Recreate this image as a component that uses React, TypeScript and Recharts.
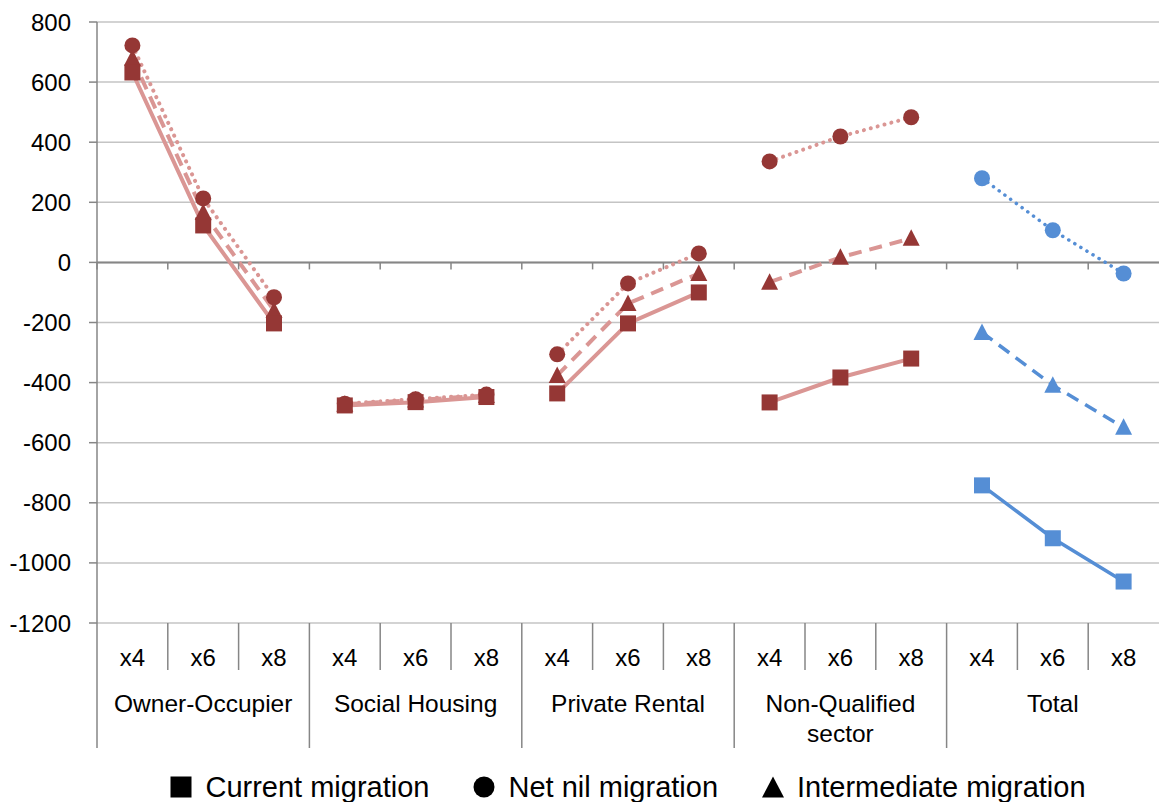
import React from 'react';
import { LineChart, Line, XAxis, YAxis, CartesianGrid, ReferenceLine } from 'recharts';

const groups = ['Owner-Occupier', 'Social Housing', 'Private Rental', 'Non-Qualified sector', 'Total'];
const levels = ['x4', 'x6', 'x8'];
const yTicks = [-1200, -1000, -800, -600, -400, -200, 0, 200, 400, 600, 800];

// one value per group x level, in group order
const currentMigration = [632, 123, -203, -476, -465, -448, -436, -203, -100, -466, -383, -320, -742, -918, -1062];
const netNilMigration = [722, 213, -116, -470, -455, -440, -306, -70, 30, 336, 419, 483, 280, 107, -37];
const intermediateMigration = [679, 166, -160, -472, -458, -443, -376, -137, -37, -66, 17, 80, -233, -409, -549];

const W = 1159;
const H = 802;
const PLOT_LEFT = 97;
const PLOT_TOP = 22;
const PLOT_BOTTOM = 623;
const BAND = (W - PLOT_LEFT) / (groups.length * levels.length);
const ZERO_Y = PLOT_TOP + (800 / 2000) * (PLOT_BOTTOM - PLOT_TOP);

const FONT = '"Liberation Sans", Arial, sans-serif';
const AXIS = '#868686';
const PINK = '#DA9694';
const DARK_RED = '#953735';
const BLUE = '#558ED5';

const series = [
  { key: 'nil', values: netNilMigration, shape: 'circle', dash: '0.1 7', cap: 'round' },
  { key: 'mid', values: intermediateMigration, shape: 'triangle', dash: '13 8', cap: 'butt' },
  { key: 'cur', values: currentMigration, shape: 'square', dash: undefined, cap: 'butt' },
];

const rows = groups.flatMap((g, gi) =>
  levels.map((lv, li) => {
    const i = gi * levels.length + li;
    const row: any = { id: `${gi}-${lv}`, level: lv, gi, li };
    series.forEach((s) => {
      row[`${s.key}_${gi}`] = s.values[i];
    });
    return row;
  })
);

const makeDot = (shape: string, color: string, tag: string) => (props: any) => {
  const { cx, cy, value, index } = props;
  const k = `${tag}-${index}`;
  if (cx == null || cy == null || value == null) return <g key={k} />;
  if (shape === 'square') {
    return <rect key={k} x={cx - 8} y={cy - 8} width={16} height={16} fill={color} />;
  }
  if (shape === 'circle') {
    return <circle key={k} cx={cx} cy={cy} r={8} fill={color} />;
  }
  return (
    <polygon key={k} points={`${cx},${cy - 9} ${cx + 8.5},${cy + 7.5} ${cx - 8.5},${cy + 7.5}`} fill={color} />
  );
};

const CategoryTick = (props: any) => {
  const { x, payload } = props;
  const row = rows.find((r) => r.id === payload.value);
  if (!row) return <g />;
  const left = x - BAND / 2;
  const groupStart = row.li === 0;
  const label = groups[row.gi] === 'Non-Qualified sector' ? ['Non-Qualified', 'sector'] : [groups[row.gi]];
  return (
    <g>
      <line x1={left} x2={left} y1={PLOT_BOTTOM} y2={groupStart ? 748 : 670} stroke={AXIS} strokeWidth={1.5} />
      <line x1={left} x2={left} y1={ZERO_Y} y2={ZERO_Y + 7} stroke={AXIS} strokeWidth={1.5} />
      <text x={x} y={657} textAnchor="middle" dominantBaseline="central" fontSize={24} fill="#000" fontFamily={FONT}>
        {row.level}
      </text>
      {row.li === 1 &&
        label.map((t, i) => (
          <text
            key={t}
            x={x}
            y={703 + i * 30}
            textAnchor="middle"
            dominantBaseline="central"
            fontSize={24.5}
            fill="#000"
            fontFamily={FONT}
          >
            {t}
          </text>
        ))}
    </g>
  );
};

const LegendMark = ({ shape }: { shape: string }) => (
  <svg width={22} height={22} style={{ marginRight: 13 }}>
    {shape === 'square' && <rect x={0.5} y={0.5} width={21} height={21} fill="#000" />}
    {shape === 'circle' && <circle cx={11} cy={11} r={10.5} fill="#000" />}
    {shape === 'triangle' && <polygon points="11,0.5 22,21.5 0,21.5" fill="#000" />}
  </svg>
);

const legendItems = [
  { shape: 'square', label: 'Current migration' },
  { shape: 'circle', label: 'Net nil migration' },
  { shape: 'triangle', label: 'Intermediate migration' },
];

export default function App() {
  return (
    <div style={{ position: 'absolute', left: 0, top: 0, width: W, height: H, background: '#fff', fontFamily: FONT }}>
      <LineChart width={W} height={H} data={rows} margin={{ top: PLOT_TOP, right: 0, left: 0, bottom: 0 }}>
        <CartesianGrid vertical={false} stroke="#C4C4C4" strokeWidth={1.5} />
        <XAxis
          dataKey="id"
          interval={0}
          height={H - PLOT_BOTTOM}
          padding={{ left: BAND / 2, right: BAND / 2 }}
          axisLine={false}
          tickLine={false}
          tick={CategoryTick}
        />
        <YAxis
          domain={[-1200, 800]}
          ticks={yTicks}
          interval={0}
          width={PLOT_LEFT}
          tickSize={8}
          tickMargin={18}
          axisLine={{ stroke: AXIS, strokeWidth: 1.5 }}
          tickLine={{ stroke: AXIS, strokeWidth: 1.5 }}
          tick={{ fill: '#000', fontSize: 24, fontFamily: FONT }}
        />
        <ReferenceLine y={0} stroke={AXIS} strokeWidth={2} />
        {groups.flatMap((g, gi) =>
          series.map((s) => {
            const isTotal = gi === groups.length - 1;
            return (
              <Line
                key={`${s.key}_${gi}`}
                type="linear"
                dataKey={`${s.key}_${gi}`}
                stroke={isTotal ? BLUE : PINK}
                strokeWidth={isTotal ? 3.5 : 4}
                strokeDasharray={s.dash}
                strokeLinecap={s.cap as any}
                dot={makeDot(s.shape, isTotal ? BLUE : DARK_RED, `${s.key}_${gi}`)}
                activeDot={false}
                connectNulls={false}
                isAnimationActive={false}
              />
            );
          })
        )}
      </LineChart>
      <div
        style={{
          position: 'absolute',
          left: PLOT_LEFT,
          width: W - PLOT_LEFT,
          top: 768,
          height: 38,
          display: 'flex',
          justifyContent: 'center',
          alignItems: 'center',
          fontSize: 29,
          color: '#000',
          gap: 44,
        }}
      >
        {legendItems.map((it) => (
          <div key={it.label} style={{ display: 'flex', alignItems: 'center' }}>
            <LegendMark shape={it.shape} />
            <span>{it.label}</span>
          </div>
        ))}
      </div>
    </div>
  );
}
